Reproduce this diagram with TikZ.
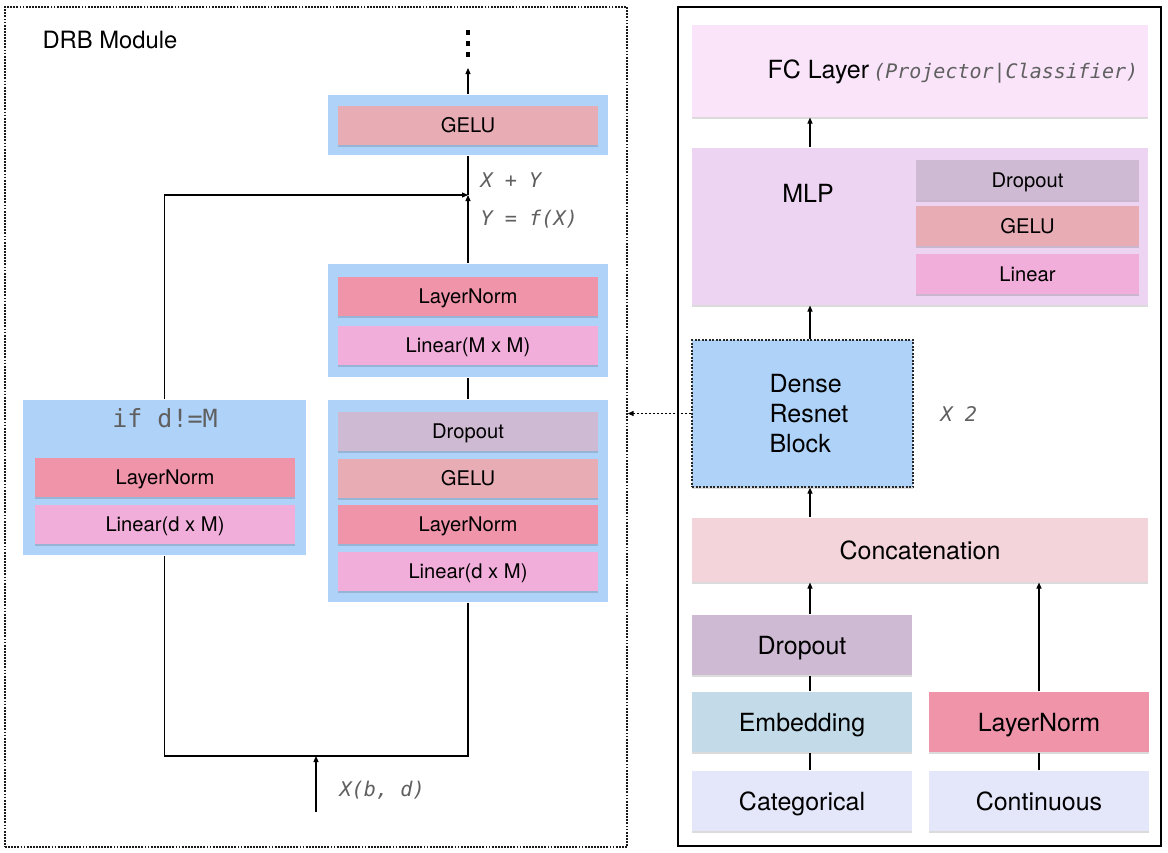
\documentclass[tikz,border=0pt]{standalone}
\usepackage{fontspec}
\setmainfont{TeX Gyre Heros}
\newfontfamily\monof{DejaVu Sans Mono}[ItalicFont={DejaVu Sans Mono Oblique}]
\usetikzlibrary{arrows.meta,shadows}
\definecolor{cbg}{HTML}{AFD2F9}
\definecolor{cgelu}{HTML}{E8ACB5}
\definecolor{cln}{HTML}{F094AA}
\definecolor{clin}{HTML}{F2AEDA}
\definecolor{cdrop}{HTML}{CEBAD2}
\definecolor{cfc}{HTML}{FAE4FA}
\definecolor{cmlp}{HTML}{ECD4F2}
\definecolor{ccat}{HTML}{F2D4DA}
\definecolor{cemb}{HTML}{C3DBE9}
\definecolor{cin}{HTML}{E4E6FA}
\definecolor{mgray}{HTML}{606060}
\begin{document}
\begin{tikzpicture}[x=1pt,y=-1pt,line width=1.1pt,
  arr/.style={-{Triangle[length=6pt,width=5pt]}},
  dots/.style={dash pattern=on 1.8pt off 1.3pt},
  shd/.style={drop shadow={shadow xshift=0pt,shadow yshift=-1.8pt,opacity=0.14,fill=black}},
  bgbox/.style={rectangle,inner sep=0pt,fill=cbg,draw=none},
  blk/.style={rectangle,inner sep=0pt,draw=none,shd,text height=14.5pt,text depth=0pt,font=\fontsize{20.2}{23}\selectfont},
  bigblk/.style={rectangle,inner sep=0pt,draw=none,shd,text height=18pt,text depth=0pt,font=\fontsize{25}{30}\selectfont},
  mono/.style={font=\monof\itshape\fontsize{20.2}{23}\selectfont,text=mgray,inner sep=0pt},
  sw/.style={minimum width=260pt,minimum height=39pt}
]
\useasboundingbox (0,0) rectangle (1168,852);
\fill[white] (0,0) rectangle (1168,852);

% ---------------- left panel ----------------
\node[draw=black!90,dots,line width=1.3pt,minimum width=622pt,minimum height=840pt,inner sep=0pt] (drbframe) at (316,427) {};
\node[anchor=west,inner sep=0pt,font=\fontsize{23.8}{28}\selectfont] (drbtitle) at (42,40) {DRB Module};
\foreach \yy in {32,43,54} \fill (466,\yy-2.5) rectangle (470,\yy+2.5);
\coordinate (topend) at (468,68);

\node[bgbox,minimum width=280pt,minimum height=60pt] (gelubg) at (468,125) {};
\node[blk,sw,fill=cgelu] (gelu1) at (468,125.5) {GELU};

\node[bgbox,minimum width=280pt,minimum height=113pt] (lnbg) at (468,320.5) {};
\node[blk,sw,fill=cln] (ln1) at (468,296.5) {LayerNorm};
\node[blk,sw,fill=clin] (lin1) at (468,345.5) {Linear(M x M)};

\node[bgbox,minimum width=280pt,minimum height=202pt] (bigbg) at (468,501) {};
\node[blk,sw,fill=cdrop] (drop1) at (468,431.5) {Dropout};
\node[blk,sw,fill=cgelu] (gelu2) at (468,478.5) {GELU};
\node[blk,sw,fill=cln] (ln2) at (468,524.5) {LayerNorm};
\node[blk,sw,fill=clin] (lin2) at (468,571.5) {Linear(d x M)};

\node[bgbox,minimum width=283pt,minimum height=155pt] (leftbg) at (164.5,477.5) {};
\node[inner sep=0pt,text=mgray,font=\monof\fontsize{25}{28}\selectfont] (iftitle) at (165,418) {if d!=M};
\node[blk,sw,fill=cln] (ln3) at (165,477.5) {LayerNorm};
\node[blk,sw,fill=clin] (lin3) at (165,524.5) {Linear(d x M)};

\coordinate (jn) at (468,195);
\coordinate (bl) at (164.5,756);
\coordinate (xin) at (316,812);
\draw[arr] (lnbg.north) -- (jn);
\draw (jn) -- (gelubg.south);
\draw[arr] (gelubg.north) -- (topend);
\draw (bigbg.north) -- (lnbg.south);
\draw (bigbg.south) -- (bigbg.south |- bl) -- (bl) -- (leftbg.south);
\draw[arr] (leftbg.north) |- (jn);
\draw[arr] (xin) -- (xin |- bl);

\node[mono,anchor=west] (xy) at (480,180) {X + Y};
\node[mono,anchor=west] (fy) at (480,219) {Y = f(X)};
\node[mono,anchor=west] (xlab) at (339,790) {X(b, d)};

% ---------------- right panel ----------------
\node[draw,line width=1.3pt,minimum width=483pt,minimum height=839pt,inner sep=0pt] (rframe) at (919.5,426.5) {};
\coordinate (cx) at (810,0);

\node[bigblk,fill=cfc,minimum width=456pt,minimum height=92pt] (fc) at (920,71) {};
\node[anchor=west,inner sep=0pt] (fclab) at (767,72) {\fontsize{25}{30}\selectfont FC Layer\,{\monof\itshape\fontsize{20}{23}\selectfont\color{mgray}(Projector|Classifier)}};

\node[bigblk,fill=cmlp,minimum width=456pt,minimum height=157pt] (mlp) at (920,226.5) {};
\node[inner sep=0pt,font=\fontsize{25}{30}\selectfont] (mlplab) at (808,193) {MLP};
\node[blk,fill=cdrop,minimum width=223pt,minimum height=40pt] (drop2) at (1027.5,180) {Dropout};
\node[blk,fill=cgelu,minimum width=223pt,minimum height=40pt] (gelu3) at (1027.5,226) {GELU};
\node[blk,fill=clin,minimum width=223pt,minimum height=40pt] (lin4) at (1027.5,274) {Linear};

\node[bigblk,fill=cbg,draw=black!85,dash pattern=on 2pt off 1.5pt,line width=1.2pt,minimum width=221pt,minimum height=147pt] (drb) at (802.5,413.5) {};
\node[anchor=west,align=left,inner sep=0pt,font=\fontsize{25}{30}\selectfont] (drblab) at (769,414) {Dense\\Resnet\\Block};
\node[mono,anchor=west] (x2) at (940,414) {X 2};

\node[bigblk,fill=ccat,minimum width=456pt,minimum height=64pt] (concat) at (920,550) {Concatenation};
\node[bigblk,fill=cdrop,minimum width=220pt,minimum height=60pt] (dropr) at (802,645) {Dropout};
\node[bigblk,fill=cemb,minimum width=220pt,minimum height=60pt] (emb) at (802,722) {Embedding};
\node[bigblk,fill=cin,minimum width=220pt,minimum height=60pt] (cat) at (802,801) {Categorical};
\node[bigblk,fill=cln,minimum width=220pt,minimum height=60pt] (lnr) at (1039,722) {LayerNorm};
\node[bigblk,fill=cin,minimum width=220pt,minimum height=60pt] (cont) at (1039,801) {Continuous};

\draw[arr] (mlp.north -| cx) -- (fc.south -| cx);
\draw[arr] (drb.north -| cx) -- (mlp.south -| cx);
\draw[arr] (concat.north -| cx) -- (drb.south -| cx);
\draw[arr] (dropr.north -| cx) -- (concat.south -| cx);
\draw (emb.north -| cx) -- (dropr.south -| cx);
\draw (cat.north -| cx) -- (emb.south -| cx);
\draw[arr] (lnr.north) -- (lnr.north |- concat.south);
\draw (cont.north) -- (lnr.south);
\draw[arr,dash pattern=on 2pt off 2pt,line width=1.2pt] (drb.west) -- (drb.west -| drbframe.east);
\end{tikzpicture}
\end{document}
